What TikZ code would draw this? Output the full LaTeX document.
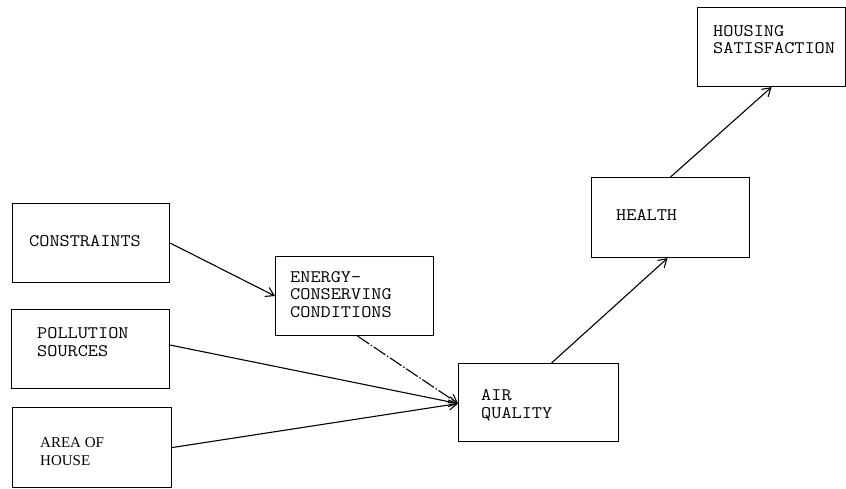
\documentclass[tikz,border=0pt]{standalone}
\usepackage{fontspec}
\setmonofont{Latin Modern Mono}[FakeStretch=1.12]
\newfontfamily\areafont{Liberation Serif}
\usetikzlibrary{arrows.meta}
\tikzset{
  box/.style={draw, line width=1.1pt, rectangle, inner sep=0pt, anchor=north west},
  lbl/.style={anchor=base west, inner sep=0pt, font=\fontsize{17.6}{17.5}\selectfont\ttfamily, align=left},
  arealbl/.style={anchor=base west, inner sep=0pt, font=\fontsize{15}{18}\selectfont\areafont, align=left},
  conn/.style={line width=1.1pt, -{Straight Barb[length=8pt,width=10pt,line width=1.1pt]}},
  faint/.style={conn, dash pattern=on 14pt off 2pt on 1.5pt off 2pt}
}
\begin{document}
\begin{tikzpicture}[x=1pt,y=-1pt]
\useasboundingbox (0,0) rectangle (846,489);
% boxes
\node[box, minimum width=157pt, minimum height=79pt] (c) at (12,203) {};
\node[box, minimum width=158pt, minimum height=79pt] (p) at (11,309) {};
\node[box, minimum width=159pt, minimum height=80pt] (ah) at (12,407) {};
\node[box, minimum width=158pt, minimum height=79pt] (e) at (275,256) {};
\node[box, minimum width=160pt, minimum height=78pt] (a) at (458,363) {};
\node[box, minimum width=158pt, minimum height=80pt] (h) at (591,177) {};
\node[box, minimum width=148pt, minimum height=79pt] (s) at (697,7) {};
% texts
\node[lbl] (ct) at (29,247) {CONSTRAINTS};
\node[lbl] (et) at (290,317) {ENERGY-\\CONSERVING\\CONDITIONS};
\node[lbl] (pt) at (37,356) {POLLUTION\\SOURCES};
\node[arealbl] (aht) at (40,465) {AREA OF\\HOUSE};
\node[lbl] (at) at (481,418) {AIR\\QUALITY};
\node[lbl] (ht) at (616,221) {HEALTH};
\node[lbl] (st) at (713,54) {HOUSING\\SATISFACTION};
% connectors
\draw[conn] (c.east) -- (e.west);
\draw[conn] ([yshift=4]p.east) -- ([yshift=-1]a.west);
\draw[conn] (ah.east) -- ([yshift=-1]a.west);
\draw[faint] ([xshift=3]e.south) -- ([yshift=-1]a.west);
\draw[conn] ([xshift=13]a.north) -- ([xshift=-3]h.south);
\draw[conn] (h.north) -- (s.south);
\end{tikzpicture}
\end{document}
